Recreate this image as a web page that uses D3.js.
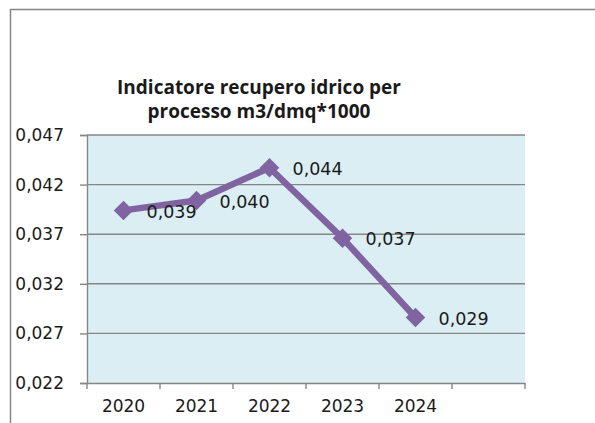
<!DOCTYPE html>
<html>
<head>
<meta charset="utf-8">
<script src="https://cdn.jsdelivr.net/npm/d3@7"></script>
<style>
  body { margin: 0; background: #fff; }
  text { font-family: "DejaVu Sans", Verdana, sans-serif; fill: #1a1a1a; }
</style>
</head>
<body>
<div id="chart"></div>
<script>
// Data
var years = ["2020", "2021", "2022", "2023", "2024"];
var values = [0.0394, 0.0404, 0.0437, 0.0366, 0.0286];
var yTicks = [0.022, 0.027, 0.032, 0.037, 0.042, 0.047];
var titleLines = ["Indicatore recupero idrico per", "processo m3/dmq*1000"];

var svgWidth = 595;
var svgHeight = 423;

var margin = { top: 135, left: 87, right: 70, bottom: 40 };
var width = svgWidth - margin.left - margin.right;   // 438
var height = 248;

var itFormat = d3.formatLocale({ decimal: ",", thousands: ".", grouping: [3], currency: ["", "€"] })
  .format(".3f");

var svg = d3.select("#chart")
  .append("svg")
  .attr("width", svgWidth)
  .attr("height", svgHeight);

// outer chart frame (runs off the page right and bottom)
svg.append("rect")
  .attr("x", 10.5)
  .attr("y", 9.5)
  .attr("width", 700)
  .attr("height", 500)
  .attr("fill", "none")
  .attr("stroke", "#868686")
  .attr("stroke-width", 1.5);

// title
svg.append("text")
  .attr("x", 259)
  .attr("text-anchor", "middle")
  .style("font-family", "'Open Sans', 'DejaVu Sans', sans-serif")
  .style("font-weight", "bold")
  .style("font-size", "19px")
  .selectAll("tspan")
  .data(titleLines)
  .enter()
  .append("tspan")
  .attr("x", 259)
  .attr("y", (d, i) => 94 + i * 24)
  .text(d => d);

var chartGroup = svg.append("g")
  .attr("transform", `translate(${margin.left}, ${margin.top})`);

// scales - one empty slot after 2024 like the original
var xBandScale = d3.scaleBand()
  .domain(years.concat([""]))
  .range([0, width]);

var yLinearScale = d3.scaleLinear()
  .domain([yTicks[0], yTicks[yTicks.length - 1]])
  .range([height, 0]);

// plot background
chartGroup.append("rect")
  .attr("width", width)
  .attr("height", height)
  .attr("fill", "#DAEEF3");

// gridlines
chartGroup.append("g")
  .selectAll("line")
  .data(yTicks.slice(1))
  .enter()
  .append("line")
  .attr("x1", 0)
  .attr("x2", width)
  .attr("y1", d => yLinearScale(d))
  .attr("y2", d => yLinearScale(d))
  .attr("stroke", "#868686")
  .attr("stroke-width", 1.4);

// y axis
var leftAxis = d3.axisLeft(yLinearScale)
  .tickValues(yTicks)
  .tickSize(7)
  .tickPadding(16)
  .tickFormat(itFormat);

var yAxis = chartGroup.append("g").call(leftAxis);
yAxis.select(".domain").attr("stroke", "#868686").attr("stroke-width", 1.4);
yAxis.selectAll(".tick line").attr("stroke", "#868686").attr("stroke-width", 1.4);
yAxis.selectAll(".tick text")
  .style("font-size", "17px")
  .attr("fill", "#1a1a1a")
  .attr("text-anchor", "end");

// x axis
var bottomAxis = d3.axisBottom(xBandScale)
  .tickSize(0)
  .tickPadding(17)
  .tickFormat(d => d);

var xAxis = chartGroup.append("g")
  .attr("transform", `translate(0, ${height})`)
  .call(bottomAxis);
xAxis.select(".domain").attr("stroke", "#868686").attr("stroke-width", 1.4);
xAxis.selectAll(".tick text")
  .style("font-size", "17px")
  .attr("fill", "#1a1a1a");

// tick marks on band edges
var edges = xBandScale.domain().map(d => xBandScale(d)).concat([width]);
xAxis.selectAll(".edge")
  .data(edges)
  .enter()
  .append("line")
  .attr("class", "edge")
  .attr("x1", d => d)
  .attr("x2", d => d)
  .attr("y1", 0)
  .attr("y2", 6)
  .attr("stroke", "#868686")
  .attr("stroke-width", 1.4);

var data = years.map((y, i) => ({ year: y, value: values[i] }));
var cx = d => xBandScale(d.year) + xBandScale.bandwidth() / 2;

// line
var line = d3.line()
  .x(cx)
  .y(d => yLinearScale(d.value));

chartGroup.append("path")
  .datum(data)
  .attr("d", line)
  .attr("fill", "none")
  .attr("stroke", "#8064A2")
  .attr("stroke-width", 6.5)
  .attr("stroke-linejoin", "round");

// diamond markers
chartGroup.selectAll(".marker")
  .data(data)
  .enter()
  .append("path")
  .attr("class", "marker")
  .attr("d", d3.symbol().type(d3.symbolSquare).size(190))
  .attr("transform", d => `translate(${cx(d)}, ${yLinearScale(d.value)}) rotate(45)`)
  .attr("fill", "#8064A2");

// data labels
chartGroup.selectAll(".label")
  .data(data)
  .enter()
  .append("text")
  .attr("class", "label")
  .attr("x", d => cx(d) + 23)
  .attr("y", d => yLinearScale(d.value) + 1)
  .attr("dy", "0.35em")
  .style("font-size", "17.5px")
  .text(d => itFormat(d.value));
</script>
</body>
</html>
